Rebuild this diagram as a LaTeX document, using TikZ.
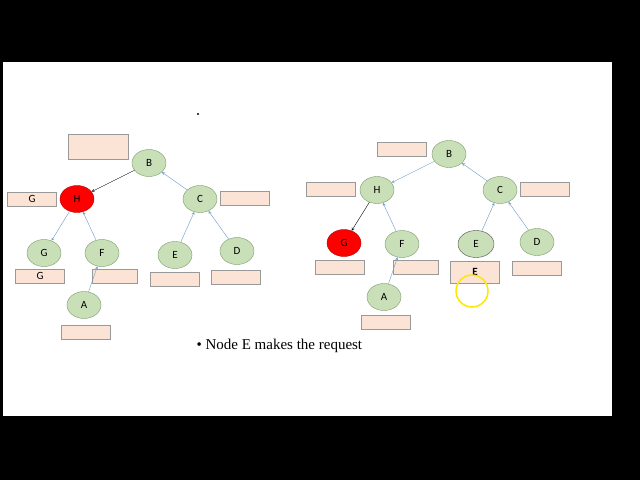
\documentclass[tikz,border=0pt]{standalone}
\usepackage{fontspec}
\setmainfont{Liberation Serif}
\newfontfamily\lab{Carlito}
\usetikzlibrary{shapes.geometric}
\definecolor{ndfill}{HTML}{C8DFB8}
\definecolor{ndline}{HTML}{7A9A6A}
\definecolor{bxfill}{HTML}{FBE3D6}
\definecolor{arr}{HTML}{6C9BC8}
\begin{document}
\begin{tikzpicture}[x=1pt,y=-1pt,
 nd/.style={ellipse,draw=ndline,fill=ndfill,minimum width=34pt,minimum height=27pt,inner sep=0pt,font=\lab\fontsize{11}{11}\selectfont},
 hot/.style={fill=red,draw=red!70!black},
 bx/.style={draw=gray!80,fill=bxfill,minimum width=49pt,minimum height=14pt,inner sep=0pt,font=\lab\fontsize{11}{11}\selectfont},
 ba/.style={-stealth,draw=arr,thin},
 ka/.style={-stealth,black,thin}]
\useasboundingbox (0,0) rectangle (640,480);
\fill[black] (0,0) rectangle (640,480);
\fill[white] (3,62) rectangle (612,416);
\fill (198,114) circle (1.2);
% left tree
\node[nd] (B1) at (149,163) {B};
\node[nd,hot] (H1) at (77,199) {H};
\node[nd] (C1) at (200,199) {C};
\node[nd] (G1) at (44,253) {G};
\node[nd] (F1) at (102,253) {F};
\node[nd] (E1) at (175,255) {E};
\node[nd] (D1) at (237,251) {D};
\node[nd] (A1) at (84,305) {A};
\node[bx,minimum width=60pt,minimum height=25pt] (r0) at (98,147) {};
\node[bx] (rH1) at (32,199) {G};
\node[bx] (rC1) at (245,198) {};
\node[bx] (rG1) at (40,276) {G};
\node[bx,minimum width=45pt] (rF1) at (115,276) {};
\node[bx] (rE1) at (175,279) {};
\node[bx] (rD1) at (236,277) {};
\node[bx] (rA1) at (86,332) {};
\draw[ka] (B1) -- (H1);
\draw[ba] (C1) -- (B1);
\draw[ba] (H1) -- (G1);
\draw[ba] (F1) -- (H1);
\draw[ba] (A1) -- (F1);
\draw[ba] (E1) -- (C1);
\draw[ba] (D1) -- (C1);
% right tree
\node[nd] (B2) at (449,154) {B};
\node[nd] (H2) at (377,190) {H};
\node[nd] (C2) at (500,190) {C};
\node[nd,hot] (G2) at (344,243) {G};
\node[nd] (F2) at (402,244) {F};
\node[nd,draw=black!70,minimum width=36pt] (E2) at (476,244) {E};
\node[nd] (D2) at (537,242) {D};
\node[nd] (A2) at (384,297) {A};
\node[bx] (r2) at (402,149) {};
\node[bx] (rH2) at (331,189) {};
\node[bx] (rC2) at (545,189) {};
\node[bx] (rG2) at (340,267) {};
\node[bx,minimum width=45pt] (rF2) at (416,267) {};
\node[bx,minimum height=22pt] (rE2) at (475,272) {\textbf{E}};
\node[bx] (rD2) at (537,268) {};
\node[bx] (rA2) at (386,322) {};
\draw[ba] (B2) -- (H2);
\draw[ba] (C2) -- (B2);
\draw[ka] (H2) -- (G2);
\draw[ba] (F2) -- (H2);
\draw[ba] (A2) -- (F2);
\draw[ba] (E2) -- (C2);
\draw[ba] (D2) -- (C2);
\draw[yellow!90!orange,line width=1.5pt] (472,291) circle (16);
\node[anchor=west,font=\fontsize{15}{15}\selectfont] (t) at (193,346) {\textbullet\ Node E makes the request};
\end{tikzpicture}
\end{document}
